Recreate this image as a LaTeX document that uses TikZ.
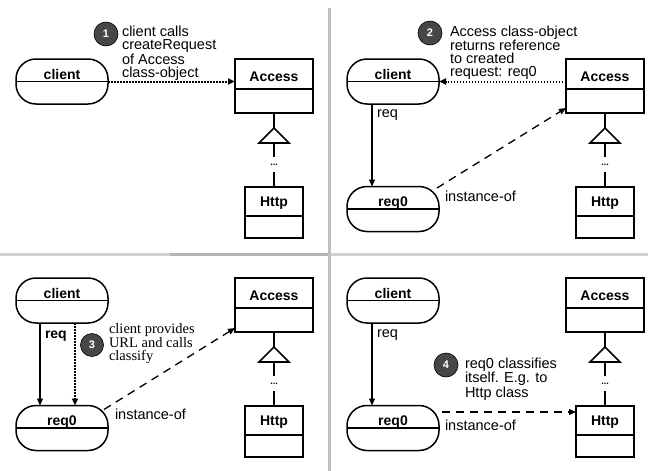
\documentclass[tikz,border=0pt]{standalone}
\usepackage{fontspec}
\setmainfont{Liberation Sans}
\newfontfamily\notefont{Liberation Serif}
\usetikzlibrary{arrows.meta,calc}

\begin{document}
\begin{tikzpicture}[x=1pt,y=-1pt,
  every node/.style={inner sep=0pt, outer sep=0pt},
  classbox/.style={draw, line width=1.8pt, rectangle},
  pill/.style={draw, line width=1.5pt, rectangle, rounded corners=20pt,
    minimum width=92pt, minimum height=45pt},
  part/.style={line width=1.5pt},
  namelbl/.style={font=\bfseries\fontsize{14}{14}\selectfont, anchor=base},
  plain/.style={font=\fontsize{14.5}{14}\selectfont, anchor=base west},
  note/.style={font=\fontsize{14.5}{13.2}\selectfont, align=left, anchor=north west},
  badge/.style={circle, draw=black, line width=0.6pt, fill=black!72,
    minimum size=#1, text=white, font=\bfseries\fontsize{11}{11}\selectfont},
  badge/.default=24pt,
  inherit/.style={line width=1.6pt},
  dotsnode/.style={font=\bfseries\fontsize{9}{9}\selectfont, minimum height=15pt},
  tip/.style={-{Triangle[length=7pt,width=6pt]}},
  solidarrow/.style={tip, line width=1.1pt},
  dotarrow/.style={tip, line width=2pt, dash pattern=on 1.5pt off 1.5pt},
  dasharrow/.style={tip, line width=1.3pt, dash pattern=on 8pt off 6pt},
  sepline/.style={line width=3pt}
]
\useasboundingbox[fill=white] (0,0) rectangle (648,471);

% panel separators
\draw[sepline, gray!50] (329,8) -- (329,471);
\draw[sepline, gray!35] (0,254) -- (170,254);
\draw[sepline, gray!58] (170,254) -- (327.5,254);
\draw[sepline, gray!35] (330.5,254) -- (648,254);

% class hierarchy Access <|-- ... -- Http, and the client object, in every panel
\foreach \p/\dx/\dy in {1/0/0, 2/331/0, 3/0/219, 4/331/219}{
  \begin{scope}[shift={(\dx,\dy)}]
    \node[classbox, minimum width=78pt, minimum height=54pt] (acc\p) at (274,86) {};
    \draw[part] (235,89) -- (313,89);
    \node[namelbl] (acctxt\p) at (274,81) {Access};
    \coordinate (tt\p) at (274,128);
    \coordinate (tb\p) at (274,143);
    \draw[inherit, fill=white] (tt\p) -- (289,143) -- (259,143) -- cycle;
    \node[dotsnode] (dots\p) at (274,164.5) {...};
    \node[classbox, minimum width=58pt, minimum height=51pt] (http\p) at (274,212.5) {};
    \draw[part] (245,216) -- (303,216);
    \node[namelbl] (httptxt\p) at (274,206) {Http};
    \draw[inherit] (acc\p.south) -- (tt\p);
    \draw[inherit] (tb\p) -- (dots\p.north);
    \draw[inherit] (dots\p.south) -- (http\p.north);

    \node[pill] (cli\p) at (62,81.5) {};
    \draw[part] (cli\p.west) -- (cli\p.east);
    \node[namelbl] (clitxt\p) at (62,79) {client};
  \end{scope}
}

% request objects in panels 2-4
\foreach \p/\dx/\dy in {2/331/0, 3/0/219, 4/331/219}{
  \begin{scope}[shift={(\dx,\dy)}]
    \node[pill] (req\p) at (62,209) {};
    \draw[part] (req\p.west) -- (req\p.east);
    \node[namelbl] (reqtxt\p) at (62,206.5) {req0};
  \end{scope}
}

% step 1
\node[badge] (b1) at (106,34) {1};
\node[note] (n1) at (122,26) {client calls\\createRequest\\of Access\\class-object};
\draw[dotarrow] (cli1.east) -- (cli1.east -| acc1.west);

% step 2
\node[badge] (b2) at (430,33) {2};
\node[note] (n2) at (450,25.5) {Access class-object\\returns reference\\to created\\request: req0};
\draw[dotarrow] (cli2.east -| acc2.west) -- (cli2.east);
\draw[solidarrow] ([xshift=-21pt]cli2.south) -- ([xshift=-21pt]req2.north);
\node[plain] (rl2) at (377,117) {req};
\draw[dasharrow] ([xshift=-2pt,yshift=-1.5pt]req2.north east) -- ([yshift=5pt]acc2.south west);
\node[plain] (io2) at (445,201) {instance-of};

% step 3
\node[badge=23pt] (b3) at (92,345) {3};
\node[note, font=\notefont\fontsize{14.5}{13}\selectfont] (n3) at (109,323.5) {client provides\\URL and calls\\classify};
\draw[solidarrow] ([xshift=-22pt]cli3.south) -- ([xshift=-22pt]req3.north);
\draw[dotarrow] ([xshift=13pt]cli3.south) -- ([xshift=13pt]req3.north);
\node[plain, font=\bfseries\fontsize{14}{14}\selectfont] (rl3) at (45,338) {req};
\draw[dasharrow] ([xshift=-4pt,yshift=-4pt]req3.north east) -- ([yshift=4pt]acc3.south west);
\node[plain] (io3) at (115,419) {instance-of};

% step 4
\node[badge] (b4) at (446,365) {4};
\node[note] (n4) at (465,357.5) {req0 classifies\\itself. E.g. to\\Http class};
\draw[solidarrow] ([xshift=-21pt]cli4.south) -- ([xshift=-21pt]req4.north);
\node[plain] (rl4) at (377,337) {req};
\coordinate (s4) at ([xshift=3pt,yshift=16pt]req4.east);
\draw[dasharrow] (s4) -- (s4 -| http4.west);
\node[plain] (io4) at (445,430) {instance-of};
\end{tikzpicture}
\end{document}
